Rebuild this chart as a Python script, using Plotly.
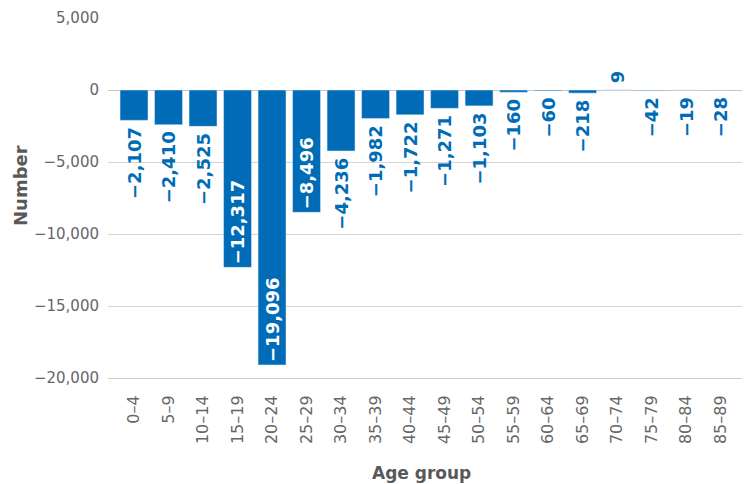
import plotly.graph_objects as go

age_groups = ["0–4", "5–9", "10–14", "15–19", "20–24", "25–29", "30–34", "35–39",
              "40–44", "45–49", "50–54", "55–59", "60–64", "65–69", "70–74",
              "75–79", "80–84", "85–89"]
net_change = [-2107, -2410, -2525, -12317, -19096, -8496, -4236, -1982,
              -1722, -1271, -1103, -160, -60, -218, 9, -42, -19, -28]
y_ticks = [5000, 0, -5000, -10000, -15000, -20000]

BLUE = "#006cb7"
FONT = "DejaVu Sans"
TITLE_COLOR = "#595959"
THIN = "\u2009"  # small gap between a bar's end and its outside label

inside = [v <= -8000 for v in net_change]
positions = ["inside" if i else "outside" for i in inside]


def bar_label(v, is_inside):
    s = f"{v:,}".replace("-", "−")
    if is_inside:
        return s
    return s + THIN if v < 0 else THIN + s


labels = [bar_label(v, i) for v, i in zip(net_change, inside)]

fig = go.Figure(go.Bar(
    x=age_groups,
    y=net_change,
    marker_color=BLUE,
    text=labels,
    textposition=positions,
    insidetextanchor="end",
    textangle=-90,
    insidetextfont=dict(family=FONT, size=18, color="white", weight="bold"),
    outsidetextfont=dict(family=FONT, size=18, color=BLUE, weight="bold"),
    constraintext="none",
    cliponaxis=False,
))

fig.update_layout(
    width=748, height=484,
    margin=dict(l=108, r=6, t=18, b=106),
    plot_bgcolor="white", paper_bgcolor="white",
    bargap=0.19,
    showlegend=False,
    font=dict(family=FONT, color="#666666"),
    xaxis=dict(
        range=[-0.754, 17.62],
        tickangle=-90,
        tickfont=dict(size=16, color="#666666"),
        showgrid=False,
        showline=True, linecolor="#cccccc", linewidth=1,
        ticks="", ticklabelstandoff=10,
    ),
    yaxis=dict(
        range=[-20000, 5000],
        tickvals=y_ticks,
        ticktext=[f"{v:,}".replace("-", "−") for v in y_ticks],
        tickfont=dict(size=15, color="#666666"),
        showgrid=True, gridcolor="#d4d4d4", gridwidth=1,
        zeroline=True, zerolinecolor="#c4c4c4", zerolinewidth=1,
        ticks="", ticklabelstandoff=8,
    ),
    annotations=[
        dict(text="Age group", xref="paper", yref="paper",
             x=(421 - 108) / 634, y=-(473 - 378) / 360,
             xanchor="center", yanchor="middle", showarrow=False,
             font=dict(family=FONT, size=17, color=TITLE_COLOR, weight="bold")),
        dict(text="Number", xref="paper", yref="paper",
             x=-(108 - 20) / 634, y=(378 - 186) / 360,
             xanchor="center", yanchor="middle", textangle=-90, showarrow=False,
             font=dict(family=FONT, size=18, color=TITLE_COLOR, weight="bold")),
    ],
)

fig.write_html("out.html")
